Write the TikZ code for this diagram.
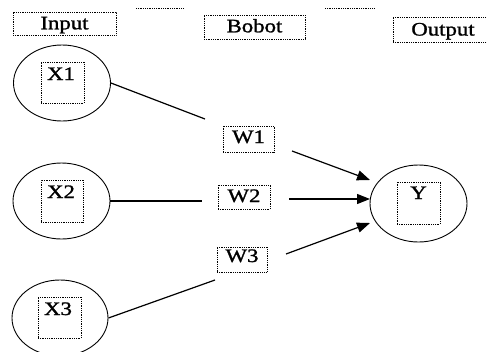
\documentclass[tikz,border=0pt]{standalone}
\usepackage{fontspec}
\setmainfont{Liberation Serif}[FakeStretch=1.2,FakeBold=1.3]
\usetikzlibrary{shapes.geometric,arrows.meta}
\begin{document}
\begin{tikzpicture}[x=1pt,y=-1pt,
  dotline/.style={line width=0.9pt, dash pattern=on 0.9pt off 0.9pt},
  dbox/.style={draw, dotline, inner sep=0pt},
  lbl/.style={anchor=base, inner sep=0pt, font=\fontsize{19}{21}\selectfont},
  neuron/.style={draw, ellipse, line width=0.9pt, inner sep=0pt, minimum width=97pt, minimum height=76pt},
  conn/.style={line width=1.2pt},
  arr/.style={line width=1.2pt, -{Triangle[length=13pt,width=10pt]}}]
\useasboundingbox (0,0) rectangle (487,351);
% header boxes
\node[dbox, minimum width=103pt, minimum height=23pt] (inbox) at (64.5,23.5) {};
\node[lbl] (intext) at (64.5,29.3) {Input};
\node[dbox, minimum width=101pt, minimum height=24pt] (bobox) at (254.5,27) {};
\node[lbl] (botext) at (254.5,32.3) {Bobot};
\node[dbox, minimum width=95pt, minimum height=25pt] (outbox) at (440.5,29.5) {};
\node[lbl] (outtext) at (443,35.5) {Output};
\draw[dotline] (136,8) -- (183,8);
\draw[dotline] (325,8) -- (374,8);
% input neurons
\node[neuron] (x1) at (62,83) {};
\node[dbox, minimum width=43pt, minimum height=41pt] (x1b) at (62.5,82.5) {};
\node[lbl] (x1t) at (61,80) {X1};
\node[neuron] (x2) at (61.5,201) {};
\node[dbox, minimum width=42pt, minimum height=42pt] (x2b) at (62,201) {};
\node[lbl] (x2t) at (61,198) {X2};
\node[neuron, minimum width=96pt] (x3) at (60,318) {};
\node[dbox, minimum width=43pt, minimum height=41pt] (x3b) at (59.5,317.5) {};
\node[lbl] (x3t) at (58,315) {X3};
% output neuron
\node[neuron, minimum height=77pt] (y) at (418.5,203.5) {};
\node[dbox, minimum width=43pt, minimum height=42pt] (yb) at (418.5,203) {};
\node[lbl] (yt) at (418.5,199) {Y};
% weights
\node[dbox, minimum width=51pt, minimum height=26pt] (w1) at (248.5,139) {};
\node[lbl] (w1t) at (248.5,143) {W1};
\node[dbox, minimum width=52pt, minimum height=24pt] (w2) at (244,197) {};
\node[lbl] (w2t) at (244,202) {W2};
\node[dbox, minimum width=50pt, minimum height=25pt] (w3) at (242,259.5) {};
\node[lbl] (w3t) at (242,262) {W3};
% connectors
\coordinate (c1) at (205,119);
\coordinate (c2) at (202,201);
\coordinate (c3) at (215,280);
\draw[conn] (x1.east) -- (c1);
\draw[conn] (x2.east) -- (c2);
\draw[conn] (x3.east) -- (c3);
\coordinate (a1) at (292,151);
\coordinate (a2) at (289,199);
\coordinate (a3) at (286,254);
\coordinate (e1) at (370,180);
\coordinate (e2) at (370,199);
\coordinate (e3) at (370,223);
\draw[arr] (a1) -- (e1);
\draw[arr] (a2) -- (e2);
\draw[arr] (a3) -- (e3);
\end{tikzpicture}
\end{document}
